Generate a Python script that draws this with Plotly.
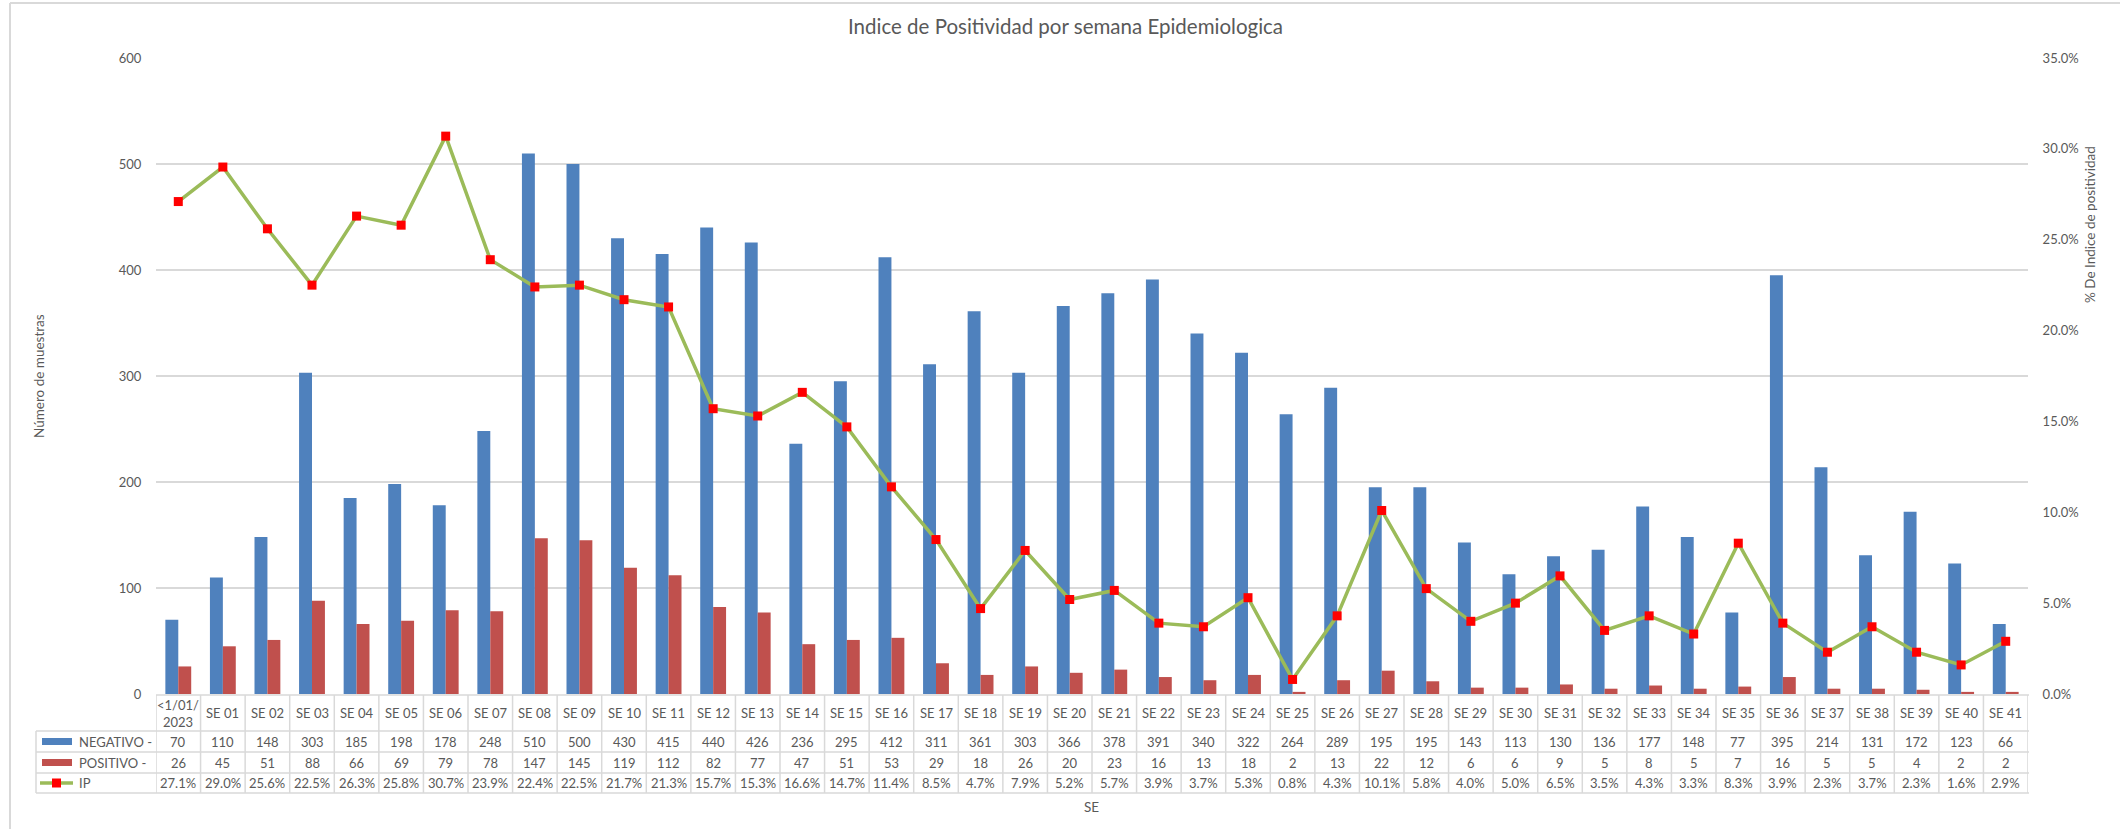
import plotly.graph_objects as go

categories = ["<1/01/2023", "SE 01", "SE 02", "SE 03", "SE 04", "SE 05", "SE 06", "SE 07", "SE 08", "SE 09",
              "SE 10", "SE 11", "SE 12", "SE 13", "SE 14", "SE 15", "SE 16", "SE 17", "SE 18", "SE 19",
              "SE 20", "SE 21", "SE 22", "SE 23", "SE 24", "SE 25", "SE 26", "SE 27", "SE 28", "SE 29",
              "SE 30", "SE 31", "SE 32", "SE 33", "SE 34", "SE 35", "SE 36", "SE 37", "SE 38", "SE 39",
              "SE 40", "SE 41"]
header_labels = ["<1/01/<br>2023"] + categories[1:]

negativo = [70, 110, 148, 303, 185, 198, 178, 248, 510, 500, 430, 415, 440, 426, 236, 295, 412, 311, 361, 303,
            366, 378, 391, 340, 322, 264, 289, 195, 195, 143, 113, 130, 136, 177, 148, 77, 395, 214, 131, 172,
            123, 66]
positivo = [26, 45, 51, 88, 66, 69, 79, 78, 147, 145, 119, 112, 82, 77, 47, 51, 53, 29, 18, 26,
            20, 23, 16, 13, 18, 2, 13, 22, 12, 6, 6, 9, 5, 8, 5, 7, 16, 5, 5, 4,
            2, 2]
ip_pct = [27.1, 29.0, 25.6, 22.5, 26.3, 25.8, 30.7, 23.9, 22.4, 22.5, 21.7, 21.3, 15.7, 15.3, 16.6, 14.7, 11.4,
          8.5, 4.7, 7.9, 5.2, 5.7, 3.9, 3.7, 5.3, 0.8, 4.3, 10.1, 5.8, 4.0, 5.0, 6.5, 3.5, 4.3, 3.3, 8.3, 3.9,
          2.3, 3.7, 2.3, 1.6, 2.9]
ip = [v / 100 for v in ip_pct]

BLUE = "#4F81BD"
RED = "#C0504D"
GREEN = "#9BBB59"
MARK = "#FF0000"
GRID = "#D9D9D9"
TXT = "#595959"
FONT = "Lato"
TS = 13  # table font size

W, H = 2120, 829
L, R, T, B = 156, 2028, 58, 694
PW, PH = R - L, B - T


def px(x):
    return (x - L) / PW


def py(y):
    return (B - y) / PH


x_idx = list(range(len(categories)))

fig = go.Figure()
fig.add_trace(go.Bar(x=x_idx, y=negativo, name="NEGATIVO -", marker=dict(color=BLUE, line=dict(width=0))))
fig.add_trace(go.Bar(x=x_idx, y=positivo, name="POSITIVO -", marker=dict(color=RED, line=dict(width=0))))
fig.add_trace(go.Scatter(x=x_idx, y=ip, name="IP", yaxis="y2", mode="lines+markers",
                         line=dict(color=GREEN, width=3.5),
                         marker=dict(symbol="square", size=9, color=MARK)))

shapes = []
annotations = []

# table geometry (pixels)
row_tops = [695, 731, 752, 773, 793]
tab_left = 36
for i, yy in enumerate(row_tops):
    x0 = px(L) if i == 0 else px(tab_left)
    shapes.append(dict(type="line", xref="paper", yref="paper", x0=x0, x1=px(R + 1), y0=py(yy), y1=py(yy),
                       line=dict(color=GRID, width=1.5)))
shapes.append(dict(type="line", xref="paper", yref="paper", x0=px(tab_left), x1=px(tab_left),
                   y0=py(row_tops[1]), y1=py(row_tops[-1]), line=dict(color=GRID, width=1.5)))
for k in range(len(categories) + 1):
    shapes.append(dict(type="line", xref="x", yref="paper", x0=k - 0.5, x1=k - 0.5,
                       y0=py(row_tops[0]), y1=py(row_tops[-1]), line=dict(color=GRID, width=1.5)))

row_centers = [(row_tops[i] + row_tops[i + 1]) / 2 for i in range(4)]
tfont = dict(family=FONT, size=TS, color=TXT)


def cell(x, y, text, xref="x", xanchor="center"):
    return dict(x=x, y=y, xref=xref, yref="paper", text=text, showarrow=False, font=tfont,
                xanchor=xanchor, yanchor="middle", borderpad=0)


for k, lab in enumerate(header_labels):
    annotations.append(cell(k, py(row_centers[0]), lab))
    annotations.append(cell(k, py(row_centers[1]), str(negativo[k])))
    annotations.append(cell(k, py(row_centers[2]), str(positivo[k])))
    annotations.append(cell(k, py(row_centers[3]), f"{ip_pct[k]:.1f}%"))

row_names = ["NEGATIVO -", "POSITIVO -", "IP"]
for i, nm in enumerate(row_names):
    annotations.append(cell(px(78), py(row_centers[i + 1]), nm, xref="paper", xanchor="left"))
shapes.append(dict(type="rect", xref="paper", yref="paper", x0=px(42), x1=px(72),
                   y0=py(row_centers[1] - 3.5), y1=py(row_centers[1] + 3.5),
                   fillcolor=BLUE, line=dict(width=0)))
shapes.append(dict(type="rect", xref="paper", yref="paper", x0=px(42), x1=px(72),
                   y0=py(row_centers[2] - 3.5), y1=py(row_centers[2] + 3.5),
                   fillcolor=RED, line=dict(width=0)))
shapes.append(dict(type="line", xref="paper", yref="paper", x0=px(40), x1=px(73),
                   y0=py(row_centers[3]), y1=py(row_centers[3]), line=dict(color=GREEN, width=3.5)))
shapes.append(dict(type="rect", xref="paper", yref="paper", x0=px(52), x1=px(61),
                   y0=py(row_centers[3] - 4.5), y1=py(row_centers[3] + 4.5),
                   fillcolor=MARK, line=dict(width=0)))

# chart border (left & top)
shapes.append(dict(type="line", xref="paper", yref="paper", x0=px(10), x1=px(10), y0=py(3), y1=py(H + 5),
                   line=dict(color=GRID, width=2)))
shapes.append(dict(type="line", xref="paper", yref="paper", x0=px(10), x1=px(W + 5), y0=py(3), y1=py(3),
                   line=dict(color=GRID, width=2)))


def label(x, y, text, size, angle=0):
    return dict(x=px(x), y=py(y), xref="paper", yref="paper", text=text, textangle=angle, showarrow=False,
                xanchor="center", yanchor="middle", font=dict(family=FONT, size=size, color=TXT))


annotations.append(label(39, 376, "Número de muestras", 13.5, -90))
annotations.append(label(2090, 225, "% De Indice de positividad", 13.5, -90))
annotations.append(label(1091, 807, "SE", 13.5))
annotations.append(label(1065, 26, "Indice de Positividad por semana Epidemiologica", 20.5))

fig.update_layout(
    width=W, height=H,
    margin=dict(l=L, r=W - R, t=T, b=H - B, pad=0),
    paper_bgcolor="white", plot_bgcolor="white",
    barmode="group", bargap=0.42, bargroupgap=0,
    showlegend=False,
    font=dict(family=FONT, size=13, color=TXT),
    xaxis=dict(range=[-0.5, len(categories) - 0.5], showticklabels=False, showgrid=False,
               zeroline=False, showline=False, ticks=""),
    yaxis=dict(range=[0, 600], dtick=100, showgrid=True, gridcolor=GRID, gridwidth=1.5,
               zeroline=False, showline=False, ticks="outside", ticklen=11, tickcolor="rgba(0,0,0,0)",
               tickfont=dict(family=FONT, size=13, color=TXT)),
    yaxis2=dict(range=[0, 0.35], dtick=0.05, tickformat=".1%", overlaying="y", side="right",
                showgrid=False, zeroline=False, showline=False, ticks="outside", ticklen=11,
                tickcolor="rgba(0,0,0,0)",
                tickfont=dict(family=FONT, size=13, color=TXT)),
    shapes=shapes,
    annotations=annotations,
)

fig.write_html("out.html", post_script="document.body.style.margin='0px';",
               config={"displayModeBar": False})
